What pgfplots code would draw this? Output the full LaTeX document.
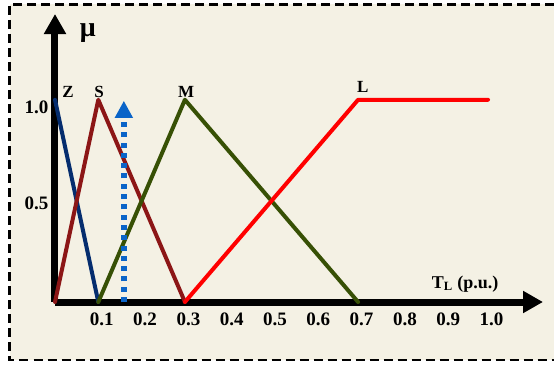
\documentclass[border=0pt]{standalone}
\usepackage{pgfplots}
\pgfplotsset{compat=1.18}
\usepackage{fontspec}
\setmainfont{Liberation Serif}
\usetikzlibrary{arrows.meta}
\definecolor{bgc}{RGB}{244,241,228}
\definecolor{zc}{RGB}{5,45,110}
\definecolor{sc}{RGB}{140,22,22}
\definecolor{mc}{RGB}{55,80,5}
\definecolor{lc}{RGB}{255,0,0}
\definecolor{arc}{RGB}{10,100,200}
\begin{document}
\begin{tikzpicture}[x=1pt,y=1pt]
\useasboundingbox (0,0) rectangle (554,365);
\fill[bgc] (9.5,5) rectangle (554,360.5);
\draw[black, line width=2.5pt, dash pattern=on 9pt off 5pt] (554,360.5) -- (9.5,360.5) -- (9.5,5) -- (554,5);
\begin{axis}[
  at={(55pt,63pt)}, anchor=south west,
  scale only axis, width=488pt, height=288pt,
  xmin=0, xmax=1.127, ymin=0, ymax=1.424,
  axis lines=left,
  axis line style={line width=7pt, -{Triangle[length=20pt,width=21pt]}},
  xtick={0.1,0.2,0.3,0.4,0.5,0.6,0.7,0.8,0.9,1.0},
  xticklabels={0.1,0.2,0.3,0.4,0.5,0.6,0.7,0.8,0.9,1.0},
  ytick={0.49,0.965},
  yticklabels={0.5,1.0},
  major tick length=0pt,
  xticklabel style={font=\fontsize{19}{19}\selectfont\bfseries, yshift=-7pt, xshift=3.5pt},
  yticklabel style={font=\fontsize{19}{19}\selectfont\bfseries, xshift=-3pt},
  clip=false,
]
\addplot[zc, line width=4pt, line cap=round] coordinates {(0,1) (0.1,0)};
\addplot[sc, line width=4pt, line cap=round, line join=round] coordinates {(0,0) (0.1,1) (0.3,0)};
\addplot[mc, line width=4pt, line cap=round, line join=round] coordinates {(0.1,0) (0.3,1) (0.7,0)};
\addplot[lc, line width=4pt, line cap=round, line join=round] coordinates {(0.3,0) (0.7,1) (1.0,1)};
\addplot[arc, line width=6pt, dash pattern=on 5pt off 5.3pt, -{Triangle[length=17pt,width=17pt]}] coordinates {(0.159,0) (0.159,0.995)};
\node[font=\fontsize{28}{28}\selectfont\bfseries] at (axis cs:0.076,1.33) {μ};
\node[font=\fontsize{17}{17}\selectfont\bfseries] at (axis cs:0.030,1.04) {Z};
\node[font=\fontsize{17}{17}\selectfont\bfseries] at (axis cs:0.102,1.04) {S};
\node[font=\fontsize{17}{17}\selectfont\bfseries] at (axis cs:0.303,1.04) {M};
\node[font=\fontsize{17}{17}\selectfont\bfseries] at (axis cs:0.711,1.064) {L};
\node[font=\fontsize{18}{18}\selectfont\bfseries] at (axis cs:0.947,0.089) {T\textsubscript{L} (p.u.)};
\end{axis}
\end{tikzpicture}
\end{document}
